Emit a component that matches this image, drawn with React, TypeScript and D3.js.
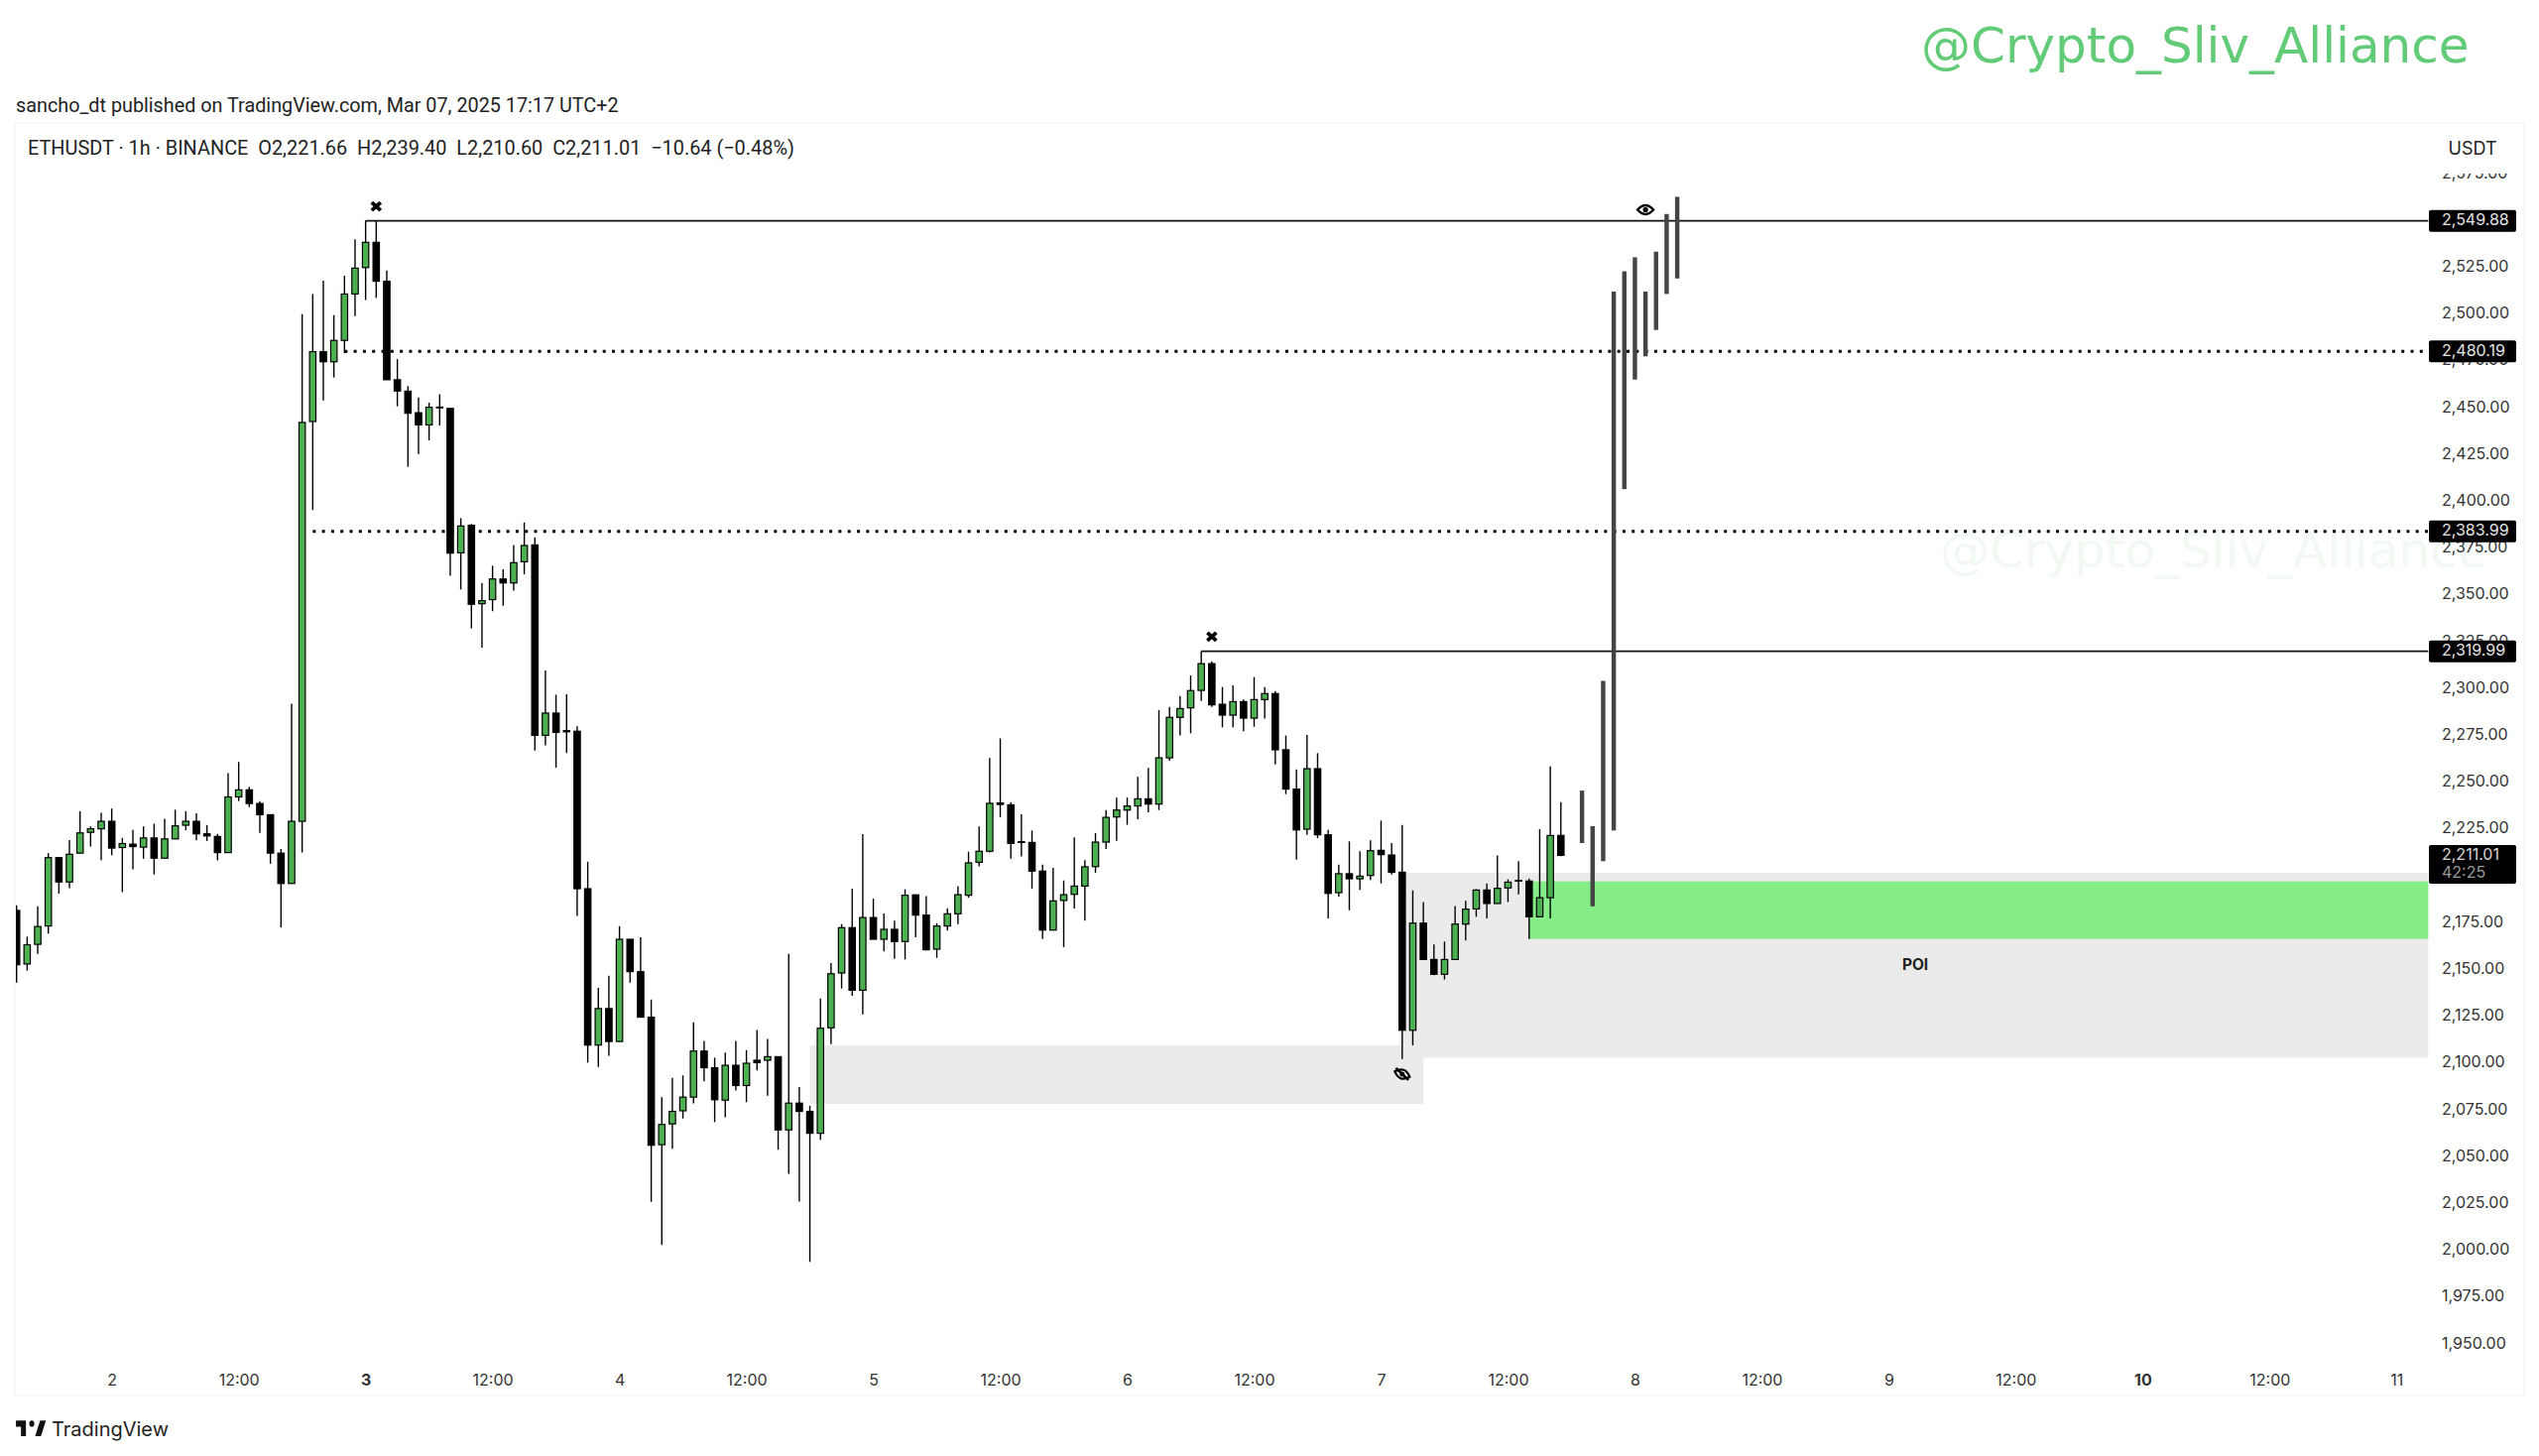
import * as d3 from 'd3';
import React, { useEffect, useRef } from 'react';

// one candle per hour, bar 0 = Mar 2 00:00, first visible bar is -9
const firstBar = -9;
const opens = [
  2181.6, 2153, 2163.5, 2173.3, 2209.8, 2196.8, 2212.2, 2223.3, 2225.2,
  2229.2, 2215.2, 2217, 2215.4, 2220.3, 2209.5, 2219.8, 2227.1, 2229.2, 2222.5, 2221.1, 2212.5,
  2242.2, 2246, 2238.7, 2232.7, 2212.2, 2196, 2229.2, 2442.7, 2480, 2474.6, 2486, 2510.8,
  2524.9, 2538.4, 2517.6, 2465, 2458.9, 2447.4, 2440.9, 2450.4, 2449.7, 2372.6, 2387.3, 2345.4,
  2347.6, 2358.6, 2356.5, 2367.8, 2376.8, 2275.1, 2287, 2277.6, 2277.3, 2193.2, 2109.7, 2129.2,
  2111.6, 2166.2, 2148.9, 2124.6, 2056.5, 2067.6, 2074.6, 2081.9, 2106.5, 2097.6, 2080.3, 2098.9,
  2088.1, 2101.6, 2101.6, 2103.5, 2064.4, 2078.7, 2074.3, 2062.6, 2118.9, 2148.2, 2172.4, 2139,
  2177.8, 2166.2, 2171.5, 2165, 2189.9, 2179.1, 2160.9, 2173.3, 2179.8, 2189.7, 2207.3, 2213.2,
  2239, 2238, 2218.3, 2217.9, 2202.6, 2171.1, 2186.9, 2190.2, 2194.6, 2205, 2218.1, 2231.5,
  2235.2, 2237.4, 2241.2, 2238.4, 2263.1, 2284.7, 2289.8, 2299.1, 2313.4, 2291.7, 2285.9, 2293.1,
  2284.3, 2294.2, 2297.4, 2267.4, 2246.4, 2225, 2257.3, 2222, 2191.1, 2201.2, 2198.5, 2200.3,
  2213.7, 2211.2, 2202, 2117.6, 2174.8, 2155.4, 2147.5, 2155.4, 2174.3, 2182.4, 2192.5, 2185.3,
  2193.6, 2197.6, 2197.3, 2178.2, 2188.4, 2221.66,
];
const highs = [
  2184.4, 2167.6, 2183.8, 2212.2, 2209.8, 2219.2, 2234.6, 2226.5, 2233.8,
  2236, 2220.3, 2224.6, 2226.5, 2227.9, 2230.6, 2235.4, 2234.6, 2233.5, 2227.1, 2222.5, 2254.9,
  2260.9, 2247.6, 2240, 2232.7, 2214.4, 2292, 2500, 2510.8, 2517.9, 2499.5, 2520.6, 2540,
  2550, 2550, 2523.3, 2476, 2461.6, 2455.6, 2452.8, 2457.3, 2449.7, 2391.1, 2388, 2356.5,
  2365.7, 2363.8, 2376.8, 2388.8, 2380.8, 2309.7, 2296.8, 2297, 2280, 2207.6, 2140.3, 2146.8,
  2173.2, 2166.2, 2167.3, 2134, 2081.9, 2092.2, 2093.5, 2121.9, 2111.9, 2103, 2105.7, 2111.9,
  2107, 2117.8, 2113, 2103.5, 2158.4, 2087.3, 2077.3, 2134.6, 2153.5, 2174.3, 2193.2, 2222.3,
  2187.9, 2180, 2176.1, 2192.9, 2190.2, 2189.3, 2174.8, 2182.8, 2194.6, 2213, 2226.4, 2263,
  2273.5, 2239.3, 2232.9, 2224.3, 2206.1, 2204.3, 2197.6, 2220.6, 2208.4, 2222.9, 2235.2, 2241.8,
  2241.9, 2252.9, 2257.7, 2288.6, 2290.3, 2296.1, 2307.1, 2320, 2314.7, 2300.9, 2301.8, 2294.2,
  2306.2, 2300.9, 2298.8, 2275, 2256.9, 2275.3, 2265.6, 2224.6, 2206.1, 2218.5, 2213.2, 2219,
  2229.6, 2217.6, 2227.3, 2192.3, 2186.1, 2163.4, 2165, 2184, 2186.7, 2192.9, 2196, 2210.9,
  2198.2, 2207.9, 2198.7, 2225, 2258.5, 2239.4,
];
const lows = [
  2143, 2149.5, 2158.4, 2169.2, 2190.6, 2193.5, 2212.2, 2215.7, 2208.4,
  2211.1, 2191.4, 2203.5, 2209.2, 2200.8, 2209.5, 2219.8, 2224.4, 2219, 2218.7, 2208.4, 2212.5,
  2240, 2236.8, 2223, 2206.5, 2172.5, 2196, 2212.5, 2395.4, 2454, 2466.2, 2479.2, 2499,
  2507.6, 2508.7, 2465, 2450.8, 2418.5, 2425.4, 2432.6, 2440.6, 2360.3, 2353, 2332.2, 2321.9,
  2341.4, 2344.3, 2352.4, 2361.1, 2267, 2269.7, 2257.8, 2265.7, 2178.6, 2100.3, 2098, 2104,
  2111.6, 2143, 2124.6, 2026, 2003, 2054.3, 2070.5, 2078.6, 2090.3, 2068.6, 2071.1, 2085.4,
  2079.2, 2096.2, 2082.7, 2053.8, 2041, 2026.1, 1993.9, 2059.1, 2110.2, 2139.9, 2136, 2126.1,
  2166.2, 2159.7, 2155.8, 2155.4, 2167.3, 2160.2, 2156.3, 2170.8, 2174.3, 2188.4, 2205.2, 2212.6,
  2231.3, 2209.3, 2210.5, 2193.2, 2166.4, 2171.1, 2162, 2182.6, 2176.1, 2201.7, 2214.4, 2218.8,
  2227.3, 2230.3, 2234, 2235.2, 2261.5, 2275, 2276.2, 2293.5, 2290.3, 2279.4, 2279.4, 2277.3,
  2279.7, 2284, 2259.6, 2243.7, 2208.7, 2222, 2220.2, 2177.3, 2189, 2181.7, 2192.5, 2197.8,
  2196, 2200.8, 2102.3, 2109.5, 2155.4, 2147, 2144.7, 2155.4, 2165.5, 2178.2, 2177.3, 2185.3,
  2186.1, 2190.2, 2166.4, 2178.2, 2177.3, 2210.6,
];
const closes = [
  2152.6, 2163.3, 2173, 2209.8, 2196.8, 2211.6, 2223, 2225.2, 2229.2,
  2214.9, 2217.3, 2215.7, 2220.3, 2209.5, 2219.8, 2226.8, 2229.2, 2222.5, 2221.4, 2212.5, 2242.2,
  2246, 2238.7, 2232.7, 2212.2, 2196, 2229.2, 2442.2, 2480, 2474.6, 2486, 2510.8, 2524.6,
  2538.4, 2517.6, 2465, 2459, 2447.1, 2440.9, 2450.3, 2450, 2372.4, 2386.9, 2345.1, 2347,
  2358.6, 2356.5, 2367.3, 2376.5, 2275.1, 2287, 2276.7, 2277, 2193.2, 2109.7, 2129.2, 2111.6,
  2166.2, 2148.9, 2124.6, 2056.2, 2067.3, 2074.3, 2081.9, 2106.5, 2097.6, 2080.5, 2098.9, 2088.1,
  2100, 2100.3, 2103.5, 2064.4, 2078.7, 2074.3, 2062.6, 2118.7, 2147.8, 2172.4, 2139, 2177.8,
  2166.2, 2171.5, 2165, 2189.7, 2179.1, 2160.6, 2173.3, 2179.8, 2190, 2207, 2213.2, 2238.8,
  2238.2, 2217.4, 2217.9, 2202.6, 2171.1, 2186.7, 2190, 2194.6, 2204.9, 2218.1, 2231.3, 2235.2,
  2237.4, 2241.2, 2238.4, 2263.1, 2284.7, 2289.4, 2299, 2313.4, 2291.4, 2285.9, 2293.1, 2284.3,
  2294.2, 2297.4, 2267.4, 2246.4, 2224.6, 2257.3, 2222, 2190.7, 2201.2, 2198.5, 2199.9, 2213.5,
  2211.4, 2202, 2117.6, 2174.8, 2155.4, 2147.5, 2155.4, 2174.3, 2182.3, 2192.5, 2185.3, 2193.4,
  2196.7, 2197.3, 2178.2, 2188.4, 2221.6, 2211.01,
];

// grey ghost bars pasted after the last candle
const ghostBars = [139, 140, 141, 142, 143, 144, 145, 146, 147, 148];
const ghostHighs = [2245.6, 2226.6, 2304.2, 2512.1, 2522.9, 2530.4, 2512.1, 2533.4, 2553.5, 2562.7];
const ghostLows = [2217.6, 2183.8, 2207.9, 2224.3, 2406.6, 2465.1, 2477.5, 2491.6, 2510.8, 2519.1];

const levelPrices = [2549.88, 2480.19, 2383.99, 2319.99];
const levelStarts = [24, 22, 19, 103];
const levelDotted = [false, true, true, false];

const priceTicks = d3.range(1950, 2576, 25);
const timeTicks = d3.range(0, 217, 12);
const timeLabels = ['2', '12:00', '3', '12:00', '4', '12:00', '5', '12:00', '6', '12:00', '7', '12:00', '8', '12:00', '9', '12:00', '10', '12:00', '11'];
const boldTimeLabels = ['3', '10'];

const crossBars = [25, 104];
const crossPrices = [2557.6, 2327.8];

const uiFont = 'Inter, Roboto, sans-serif';
const headFont = 'Roboto, sans-serif';
const watermark = '@Crypto_Sliv_Alliance';

export default function App() {
  const width = 2560;
  const height = 1468;
  const x = d3.scaleLinear().domain([-9, 219]).range([16.7, 2448.3]);
  const y = d3.scaleLinear().domain([1950, 2600]).range([1355.2, 128]);
  const yAxisRef = useRef<SVGGElement>(null);
  const xAxisRef = useRef<SVGGElement>(null);
  const fmt = d3.format(',.2f');

  useEffect(() => {
    const yAxis = d3
      .axisRight(y)
      .tickValues(priceTicks)
      .tickSize(0)
      .tickPadding(0)
      .tickFormat((d) => fmt(d as number));
    const yg = d3.select(yAxisRef.current!).call(yAxis);
    yg.select('.domain').remove();
    yg.selectAll('text')
      .attr('font-family', uiFont)
      .attr('font-size', 16)
      .attr('fill', '#333')
      .attr('dy', '0.32em')
      .attr('y', -1.2);

    const xAxis = d3
      .axisBottom(x)
      .tickValues(timeTicks)
      .tickSize(0)
      .tickPadding(0)
      .tickFormat((_, i) => timeLabels[i]);
    const xg = d3.select(xAxisRef.current!).call(xAxis);
    xg.select('.domain').remove();
    xg.selectAll('text')
      .attr('font-family', uiFont)
      .attr('font-size', 16)
      .attr('fill', '#333')
      .attr('font-weight', (_, i) => (boldTimeLabels.includes(timeLabels[i]) ? 700 : 400))
      .attr('dy', '0.32em')
      .attr('y', 0);
  }, []);

  const bars = d3.range(opens.length).map((i) => ({
    bar: firstBar + i,
    o: opens[i],
    h: highs[i],
    l: lows[i],
    c: closes[i],
  }));

  const poiTop = 2201.7;
  const poiBottom = 2103;
  const bodyW = 6.4;

  return (
    <svg
      width={width}
      height={height}
      style={{ position: 'absolute', left: 0, top: 0, display: 'block', background: '#fff' }}
    >
      <defs>
        <clipPath id="pane">
          <rect x={16} y={124} width={2530} height={1284} />
        </clipPath>
        <clipPath id="scale">
          <rect x={2450} y={175} width={95} height={1200} />
        </clipPath>
      </defs>

      <text x={1937} y={63} fontFamily="'DejaVu Sans'" fontSize={50} fill="#62cb78">
        {watermark}
      </text>
      <text x={16} y={113} fontFamily={headFont} fontSize={19.8} fill="#222">
        sancho_dt published on TradingView.com, Mar 07, 2025 17:17 UTC+2
      </text>

      <rect x={15} y={124} width={2530} height={1283} fill="none" stroke="#f6f6f6" strokeWidth={1.5} />

      <text x={1956} y={572} fontFamily="'DejaVu Sans'" fontSize={50} fill="#f1f9f2">
        {watermark}
      </text>

      {/* zones */}
      <rect x={x(122)} y={y(poiTop)} width={x(219) - x(122)} height={y(poiBottom) - y(poiTop)} fill="#ebebeb" />
      <rect x={x(66)} y={y(2109.5)} width={x(124) - x(66)} height={y(2078.3) - y(2109.5)} fill="#ebebeb" />
      <rect x={x(134)} y={y(2197.1)} width={x(219) - x(134)} height={y(2166.4) - y(2197.1)} fill="#86ec87" />
      <text
        x={x(170.5)}
        y={y((poiTop + poiBottom) / 2) - 1}
        dy="0.35em"
        textAnchor="middle"
        fontFamily={uiFont}
        fontSize={15.5}
        fontWeight={700}
        fill="#222"
      >
        POI
      </text>

      {/* levels */}
      {levelPrices.map((p, i) => (
        <line
          key={p}
          x1={x(levelStarts[i])}
          x2={x(219)}
          y1={y(p)}
          y2={y(p)}
          stroke={levelDotted[i] ? '#000' : '#111'}
          strokeWidth={levelDotted[i] ? 3 : 1.7}
          strokeDasharray={levelDotted[i] ? '3 6.3' : undefined}
        />
      ))}

      {/* candles */}
      <g clipPath="url(#pane)">
        {bars.map((d) => {
          const up = d.c >= d.o;
          const top = y(Math.max(d.o, d.c));
          const bottom = y(Math.min(d.o, d.c));
          return (
            <g key={d.bar}>
              <line x1={x(d.bar)} x2={x(d.bar)} y1={y(d.h)} y2={y(d.l)} stroke="#000" strokeWidth={1.4} />
              <rect
                x={x(d.bar) - bodyW / 2}
                y={top}
                width={bodyW}
                height={Math.max(bottom - top, 0.6)}
                fill={up ? '#4caf50' : '#000'}
                stroke="#000"
                strokeWidth={1.2}
              />
            </g>
          );
        })}
      </g>

      {ghostBars.map((b, i) => (
        <rect
          key={b}
          x={x(b) - 2.2}
          y={y(ghostHighs[i])}
          width={4.4}
          height={y(ghostLows[i]) - y(ghostHighs[i])}
          fill="#444"
        />
      ))}

      {crossBars.map((b, i) => (
        <path
          key={b}
          transform={`translate(${x(b)},${y(crossPrices[i])})`}
          d="M-4.5,-4L4.5,4M-4.5,4L4.5,-4"
          stroke="#000"
          strokeWidth={3.8}
          fill="none"
        />
      ))}

      {/* eye and crossed out eye */}
      <g transform={`translate(${x(145)},${y(2555.8)})`} fill="none" stroke="#000">
        <path d="M-8,0Q0,-9 8,0Q0,9 -8,0Z" strokeWidth={2.4} />
        <circle r={2.6} fill="#000" stroke="none" />
      </g>
      <g transform={`translate(${x(122)},${y(2094.2)}) rotate(20)`} fill="none" stroke="#000">
        <path d="M-8,0Q0,-9 8,0Q0,9 -8,0Z" strokeWidth={2.2} />
        <circle r={2.4} fill="#000" stroke="none" />
        <path d="M-8,-3.5L8,3.5" strokeWidth={2.4} />
      </g>

      {/* price scale */}
      <g clipPath="url(#scale)">
        <g ref={yAxisRef} transform="translate(2462,0)" />
      </g>
      <text x={2493} y={150} dy="0.35em" textAnchor="middle" fontFamily={uiFont} fontSize={18} fill="#222">
        USDT
      </text>

      {levelPrices.map((p) => (
        <g key={p}>
          <rect x={2449} y={y(p) - 11} width={88} height={22} rx={2} fill="#000" />
          <text x={2462} y={y(p) - 1} dy="0.35em" fontFamily={uiFont} fontSize={16} fill="#e4e4e4">
            {fmt(p)}
          </text>
        </g>
      ))}
      <rect x={2449} y={852} width={88} height={39} rx={2} fill="#000" />
      <text x={2462} y={861} dy="0.35em" fontFamily={uiFont} fontSize={16} fill="#d6d6d6">
        {fmt(closes[closes.length - 1])}
      </text>
      <text x={2462} y={879} dy="0.35em" fontFamily={uiFont} fontSize={16} fill="#9a9a9a">
        42:25
      </text>

      {/* time scale */}
      <g ref={xAxisRef} transform="translate(0,1392)" />

      <text x={28} y={149.5} dy="0.35em" fontFamily={headFont} fontSize={19.9} fill="#222" xmlSpace="preserve">
        {'ETHUSDT · 1h · BINANCE  O2,221.66  H2,239.40  L2,210.60  C2,211.01  −10.64 (−0.48%)'}
      </text>

      {/* TradingView logo */}
      <path
        transform="translate(14.4,1426) scale(0.84,1.05)"
        d="M14 6H2v6h6v9h6V6Zm18 15h-7l6-15h7l-6 15Zm-11-9a3 3 0 1 0 0-6 3 3 0 0 0 0 6Z"
        fill="#111"
      />
      <text x={52} y={1441} dy="0.35em" fontFamily={uiFont} fontSize={20} fill="#222">
        TradingView
      </text>
    </svg>
  );
}
